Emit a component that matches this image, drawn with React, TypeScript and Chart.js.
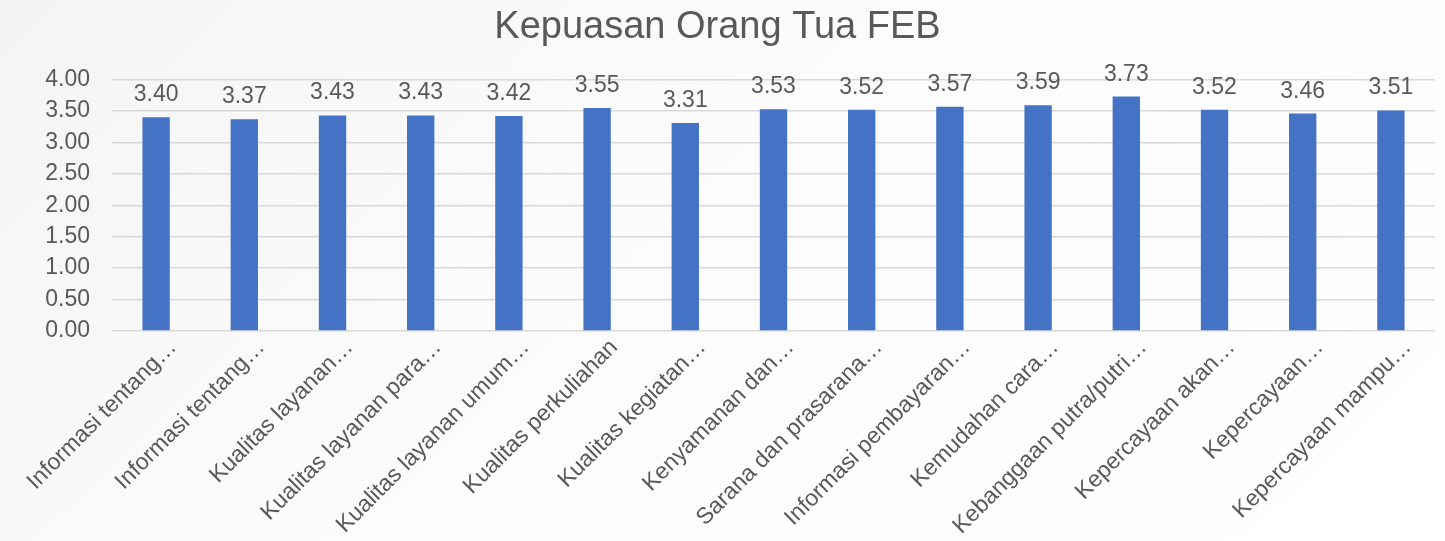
import React, { useEffect, useRef } from "react";
import { Chart, registerables } from "chart.js";

Chart.register(...registerables);

const TITLE = "Kepuasan Orang Tua FEB";
const categories = [
  "Informasi tentang…",
  "Informasi tentang…",
  "Kualitas layanan…",
  "Kualitas layanan para…",
  "Kualitas layanan umum…",
  "Kualitas perkuliahan",
  "Kualitas kegiatan…",
  "Kenyamanan dan…",
  "Sarana dan prasarana…",
  "Informasi pembayaran…",
  "Kemudahan cara…",
  "Kebanggaan putra/putri…",
  "Kepercayaan akan…",
  "Kepercayaan…",
  "Kepercayaan mampu…",
];
const values = [3.4, 3.37, 3.43, 3.43, 3.42, 3.55, 3.31, 3.53, 3.52, 3.57, 3.59, 3.73, 3.52, 3.46, 3.51];
const yMin = 0;
const yMax = 4;
const yStep = 0.5;

const FONT = "'Liberation Sans', Arial, sans-serif";
const TEXT = "#595959";

const dataLabels = {
  id: "dataLabels",
  afterDatasetsDraw(chart: any) {
    const ctx = chart.ctx;
    const meta = chart.getDatasetMeta(0);
    ctx.save();
    ctx.font = `23px ${FONT}`;
    ctx.fillStyle = TEXT;
    ctx.textAlign = "center";
    ctx.textBaseline = "alphabetic";
    meta.data.forEach((bar: any, i: number) => {
      ctx.fillText(values[i].toFixed(2), bar.x, bar.y - 16);
    });
    ctx.restore();
  },
};

export default function App() {
  const ref = useRef<HTMLCanvasElement | null>(null);
  useEffect(() => {
    if (!ref.current) return;
    const chart = new Chart(ref.current, {
      type: "bar",
      data: {
        labels: categories,
        datasets: [
          {
            data: values,
            backgroundColor: "#4472C4",
            barPercentage: 0.62,
            categoryPercentage: 0.5,
          },
        ],
      },
      options: {
        animation: false,
        responsive: false,
        devicePixelRatio: 1,
        layout: { padding: { left: 0, right: 10, top: 0, bottom: 0 } },
        plugins: {
          legend: { display: false },
          tooltip: { enabled: false },
          title: {
            display: true,
            text: TITLE,
            color: TEXT,
            font: { family: FONT, size: 38, weight: "normal" },
            padding: { top: 5, bottom: 29 },
          },
        },
        scales: {
          x: {
            grid: { display: false },
            border: { display: false },
            ticks: {
              color: TEXT,
              font: { family: FONT, size: 23 },
              maxRotation: 45,
              minRotation: 45,
              autoSkip: false,
              padding: -5,
              labelOffset: 17,
            },
            afterFit(scale: any) {
              scale.height = 210;
            },
          },
          y: {
            min: yMin,
            max: yMax,
            grid: { color: "#d9d9d9", lineWidth: 1.5, drawTicks: false },
            border: { display: false },
            ticks: {
              stepSize: yStep,
              color: TEXT,
              font: { family: FONT, size: 23 },
              padding: 22,
              callback: (v: any) => Number(v).toFixed(2),
            },
            afterFit(scale: any) {
              scale.width = 112;
            },
          },
        },
      },
      plugins: [dataLabels],
    } as any);
    return () => chart.destroy();
  }, []);
  return (
    <div
      style={{
        position: "fixed",
        left: 0,
        top: 0,
        width: 1445,
        height: 541,
        background: "linear-gradient(135deg, #f4f4f4 0%, #fbfbfb 40%, #ffffff 100%)",
      }}
    >
      <canvas ref={ref} width={1445} height={541} style={{ width: 1445, height: 541, display: "block" }} />
    </div>
  );
}
